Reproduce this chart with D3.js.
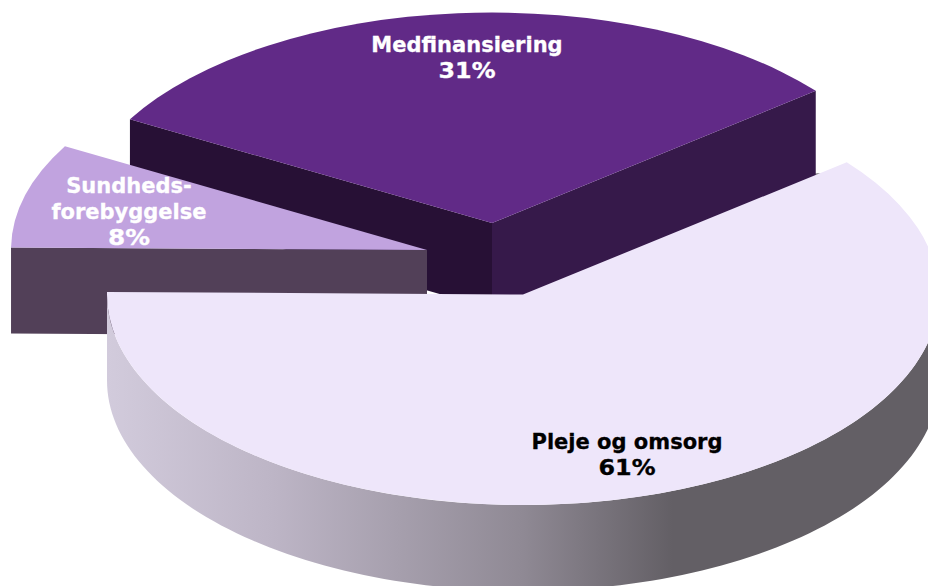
<!DOCTYPE html>
<html>
<head>
<meta charset="utf-8">
<script src="https://d3js.org/d3.v7.min.js"></script>
<style>
  html, body { margin: 0; padding: 0; background: #fff; }
  svg { display: block; }
  text { font-family: "DejaVu Sans", Verdana, sans-serif; font-weight: bold; font-size: 21px; text-anchor: middle; }
</style>
</head>
<body>
<div id="chart"></div>
<script>
// data, clockwise from due west
var categories = ["Sundhedsforebyggelse", "Medfinansiering", "Pleje og omsorg"];
var shares = [8, 31, 61];
var labelLines = [
  ["Sundheds-", "forebyggelse", "8%"],
  ["Medfinansiering", "31%"],
  ["Pleje og omsorg", "61%"]
];

var topColors = ["#c1a3df", "#612a87", "#eee6fa"];
var labelColors = ["#fff", "#fff", "#000"];

// exploded slice centres and label anchors
var centres = [[427, 250], [492, 223], [523, 294.5]];
var labelPos = [[129, 193], [467, 52], [627, 449]];

var width = 928, height = 586;
var rx = 416, ry = 210.5, depth = 86;
var lineGap = 26;
var tilt = 0.7 * Math.PI / 180;

var svg = d3.select("#chart").append("svg")
    .attr("width", width)
    .attr("height", height);

var defs = svg.append("defs");

// side of the big slice fades from pale lilac to dark grey
var grad = defs.append("linearGradient")
    .attr("id", "wallGrad")
    .attr("gradientUnits", "userSpaceOnUse")
    .attr("x1", 107).attr("x2", 939)
    .attr("y1", 0).attr("y2", 0);
grad.selectAll("stop")
    .data([[0, "#d2cbdc"], [0.2, "#bdb5c6"], [0.5, "#8f8994"], [0.68, "#635f65"], [1, "#635f65"]])
    .enter().append("stop")
    .attr("offset", function (d) { return d[0]; })
    .attr("stop-color", function (d) { return d[1]; });

defs.append("filter").attr("id", "soft")
    .append("feGaussianBlur").attr("stdDeviation", 1.2);

var pie = d3.pie().sort(null)
    .startAngle(-Math.PI / 2 + tilt)
    .endAngle(3 * Math.PI / 2 + tilt);
var slices = pie(shares);

var arc = d3.arc().innerRadius(0).outerRadius(rx);
var line = d3.line();

// point on the rim of a slice (d3 angles: 0 is north, clockwise)
function rim(a, c, dy) {
  return [c[0] + rx * Math.sin(a), c[1] - ry * Math.cos(a) + (dy || 0)];
}

// outer wall, only the front half of the ellipse (east to west)
function outerWall(d, c) {
  var from = Math.max(d.startAngle, Math.PI / 2);
  var to = Math.min(d.endAngle, 3 * Math.PI / 2);
  var upper = [], lower = [];
  d3.range(0, 121).forEach(function (i) {
    var a = from + (to - from) * i / 120;
    upper.push(rim(a, c));
    lower.unshift(rim(a, c, depth));
  });
  return line(upper.concat(lower)) + "Z";
}

// straight cut wall from the centre out to the rim
function cutWall(a, c) {
  var p = rim(a, c);
  return line([c, p, [p[0], p[1] + depth], [c[0], c[1] + depth]]) + "Z";
}

var sund = { g: svg.append("g"), d: slices[0], c: centres[0] };
var med = { g: svg.append("g"), d: slices[1], c: centres[1] };
var pleje = { g: svg.append("g"), d: slices[2], c: centres[2] };

// back to front: Medfinansiering, Sundheds, Pleje
med.g.raise();
sund.g.raise();
pleje.g.raise();

// small smudge of shadow under the corner of the purple slice
var corner = rim(med.d.endAngle, med.c, depth);
med.g.append("path")
    .attr("d", line([[corner[0] - 4, corner[1]], [corner[0] + 4, corner[1] - 3]]))
    .attr("stroke", "#555")
    .attr("stroke-width", 3)
    .attr("filter", "url(#soft)");

med.g.append("path").attr("d", cutWall(med.d.startAngle, med.c)).attr("fill", "#271035");
med.g.append("path").attr("d", cutWall(med.d.endAngle, med.c)).attr("fill", "#36194a");
sund.g.append("path").attr("d", cutWall(sund.d.startAngle, sund.c)).attr("fill", "#524058");
pleje.g.append("path").attr("d", outerWall(pleje.d, pleje.c)).attr("fill", "url(#wallGrad)");

[med, sund, pleje].forEach(function (s) {
  s.g.append("path")
      .attr("transform", "translate(" + s.c[0] + "," + s.c[1] + ") scale(1," + (ry / rx) + ")")
      .attr("d", arc(s.d))
      .attr("fill", topColors[s.d.index]);
});

// labels; the percent lines run a bit wider than this font sets them
labelLines.forEach(function (lines, i) {
  lines.forEach(function (txt, j) {
    var t = svg.append("text")
        .attr("fill", labelColors[i])
        .attr("stroke", labelColors[i])
        .attr("stroke-width", 0.3)
        .attr("x", labelPos[i][0])
        .attr("y", labelPos[i][1] + j * lineGap)
        .text(txt);
    if (txt.slice(-1) === "%") {
      t.attr("textLength", (txt.length - 1) * 15 + 27)
          .attr("lengthAdjust", "spacingAndGlyphs");
    }
  });
});
</script>
</body>
</html>
